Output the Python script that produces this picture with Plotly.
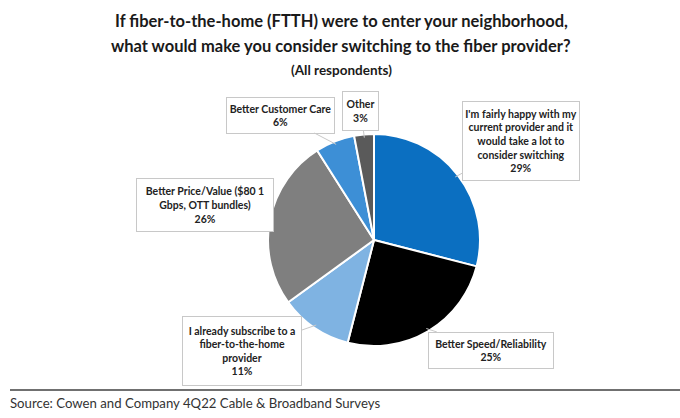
import math
import plotly.graph_objects as go

# Survey answers, clockwise from 12 o'clock
labels = [
    "I'm fairly happy with my<br>current provider and it<br>would take a lot to<br>consider switching",
    "Better Speed/Reliability",
    "I already subscribe to a<br>fiber-to-the-home<br>provider",
    "Better Price/Value ($80 1<br>Gbps, OTT bundles)",
    "Better Customer Care",
    "Other",
]
values = [29, 25, 11, 26, 6, 3]
colors = ["#0b6fc1", "#000000", "#7fb3e2", "#7f7f7f", "#3d8fd6", "#5a5a5a"]

W, H = 680, 418
cx, cy, r = 374, 240, 106  # pie centre / radius in pixels

# label box centres (px) and box sizes
box_pos = [(521, 141), (491, 350), (242, 351), (205, 205), (280, 115), (361, 111)]
box_size = [(114, 76), (122, 33), (116, 66), (134, 50), (105, 33), (33, 36)]

FONT = "Lato"

fig = go.Figure(go.Pie(
    labels=labels,
    values=values,
    marker=dict(colors=colors, line=dict(color="white", width=2)),
    sort=False,
    direction="clockwise",
    rotation=0,
    textinfo="none",
    hoverinfo="label+percent",
    showlegend=False,
    domain=dict(x=[(cx - r) / W, (cx + r) / W], y=[1 - (cy + r) / H, 1 - (cy - r) / H]),
))

annotations = []
total = sum(values)
cum = 0
for lab, v, (bx, by), (bw, bh) in zip(labels, values, box_pos, box_size):
    mid = (cum + v / 2) / total * 2 * math.pi
    cum += v
    # point on the pie edge where the callout touches
    tx = cx + r * 0.97 * math.sin(mid)
    ty = cy - r * 0.97 * math.cos(mid)
    annotations.append(dict(
        x=tx / W, y=1 - ty / H, xref="paper", yref="paper",
        ax=bx - tx, ay=by - ty, axref="pixel", ayref="pixel",
        text="<b>%s<br>%d%%</b>" % (lab, v),
        showarrow=True, arrowhead=0, arrowwidth=1, arrowcolor="#c8c8c8",
        font=dict(family=FONT, size=10.5, color="#222222"),
        bgcolor="white", bordercolor="#c8c8c8", borderwidth=1,
        width=bw, height=bh, align="center",
    ))

# title lines
title_lines = [
    ("<b>If fiber-to-the-home (FTTH) were to enter your neighborhood,</b>", 21, 16.5),
    ("<b>what would make you consider switching to the fiber provider?</b>", 46, 16.5),
    ("<b>(All respondents)</b>", 70, 13.5),
]
for txt, y, sz in title_lines:
    annotations.append(dict(
        x=341 / W, y=1 - y / H, xref="paper", yref="paper", text=txt,
        showarrow=False, xanchor="center", yanchor="middle",
        font=dict(family=FONT, size=sz, color="#1a1a1a"),
    ))

annotations.append(dict(
    x=8 / W, y=1 - 403 / H, xref="paper", yref="paper",
    text="Source: Cowen and Company 4Q22 Cable & Broadband Surveys",
    showarrow=False, xanchor="left", yanchor="middle",
    font=dict(family=FONT, size=13.2, color="#333333"),
))

fig.update_layout(
    width=W, height=H,
    margin=dict(l=0, r=0, t=0, b=0),
    paper_bgcolor="white",
    plot_bgcolor="white",
    annotations=annotations,
    shapes=[dict(type="line", xref="paper", yref="paper",
                 x0=10 / W, x1=1, y0=1 - 390 / H, y1=1 - 390 / H,
                 line=dict(color="#404040", width=1.5))],
)

# drop the browser's default body margin so the figure sits at (0, 0)
fig.write_html("out.html", config={"displayModeBar": False},
               post_script="document.body.style.margin='0';")
